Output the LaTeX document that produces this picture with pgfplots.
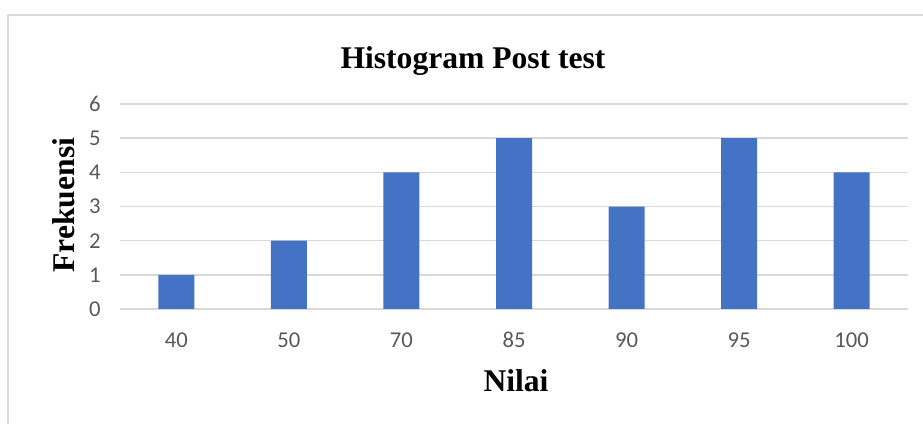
\documentclass[border=0pt]{standalone}
\usepackage{pgfplots}
\pgfplotsset{compat=1.18}
\usepackage{fontspec}
\setmainfont{Liberation Serif}
\newfontfamily\tickfont{Carlito}
\definecolor{barblue}{HTML}{4472C4}
\definecolor{gridgray}{HTML}{D9D9D9}
\definecolor{ticktext}{HTML}{595959}
\definecolor{framegray}{HTML}{D9D9D9}
\begin{document}
\begin{tikzpicture}
\useasboundingbox (0,0) rectangle (692.25pt,318pt);
\draw[framegray, line width=1.5pt] (6pt,0) -- (6pt,306.75pt) -- (692.25pt,306.75pt);
\begin{axis}[
  at={(90pt,86.25pt)}, anchor=south west,
  scale only axis,
  width=591pt, height=153.75pt,
  xmin=-0.5, xmax=6.5, ymin=0, ymax=6,
  xtick={0,...,6}, xticklabels={40,50,70,85,90,95,100},
  ytick={0,...,6},
  ymajorgrids, grid style={gridgray, line width=1.1pt},
  axis line style={draw=none},
  major tick length=0pt,
  tick label style={font=\tickfont\fontsize{17}{20}\selectfont, text=ticktext},
  yticklabel style={anchor=east, xshift=-11pt},
  xticklabel style={anchor=base, yshift=-29.25pt},
  /pgf/number format/assume math mode=true,
  title={Histogram Post test},
  title style={font=\bfseries\fontsize{23.7}{28}\selectfont, at={(rel axis cs:0.448,1.136)}, anchor=base},
  xlabel={Nilai},
  xlabel style={font=\bfseries\fontsize{23.7}{28}\selectfont, at={(rel axis cs:0.5025,-0.351)}, anchor=center},
  ylabel={Frekuensi},
  ylabel style={font=\bfseries\fontsize{23.7}{28}\selectfont, at={(rel axis cs:-0.0711,0.507)}, anchor=center, rotate=0},
  clip=false,
]
\addplot[ybar, bar width=27pt, fill=barblue, draw=none] coordinates {
  (0,1) (1,2) (2,4) (3,5) (4,3) (5,5) (6,4)
};
\end{axis}
\end{tikzpicture}
\end{document}
